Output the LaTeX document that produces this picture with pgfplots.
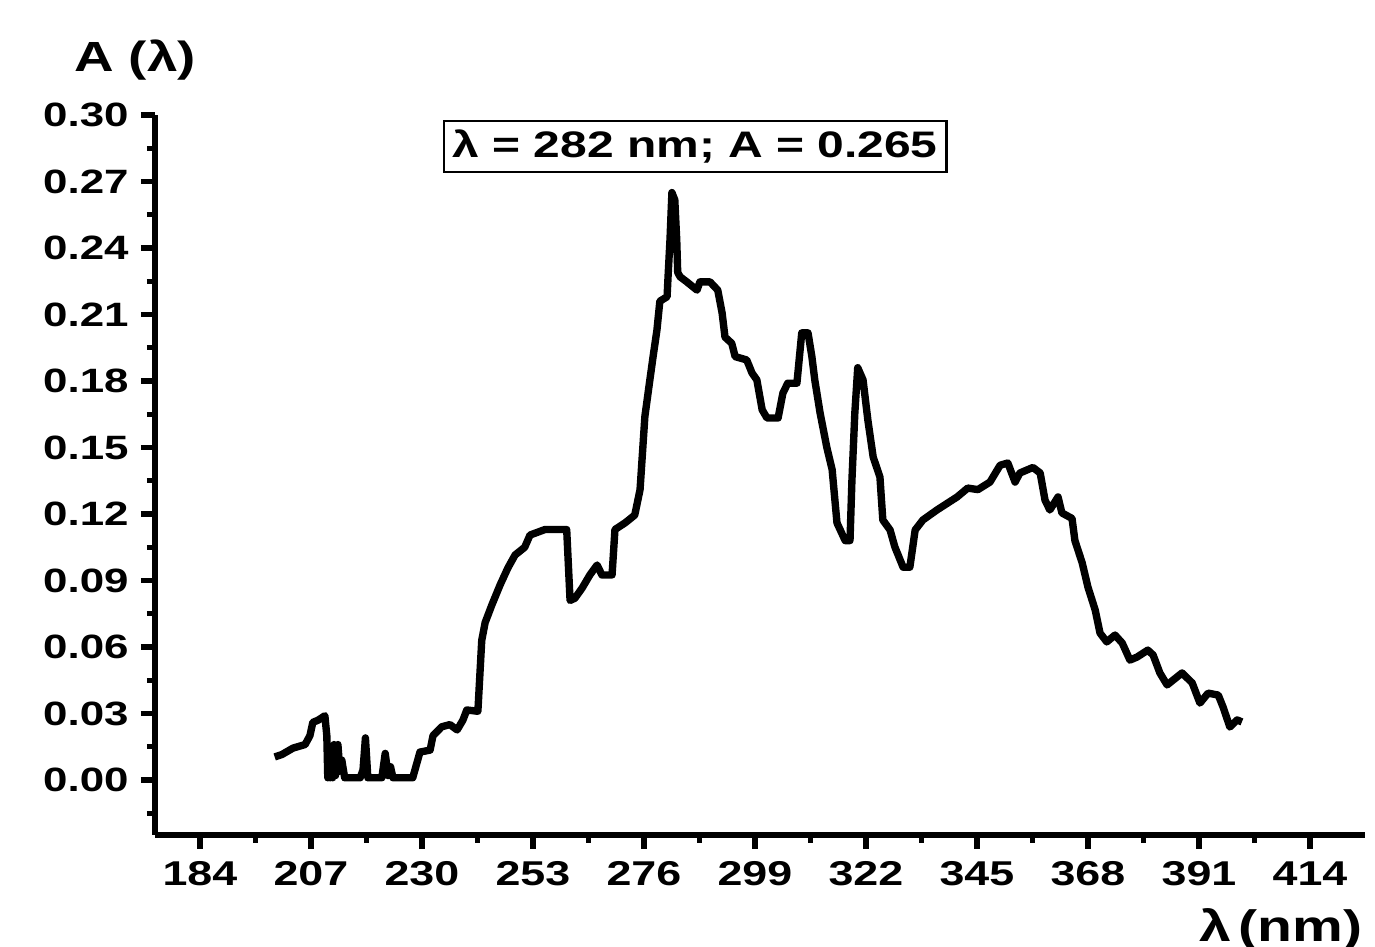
\documentclass[border=0pt]{standalone}
\usepackage{fontspec}
\setmainfont{Liberation Sans}[FakeStretch=1.3]
\usepackage{pgfplots}
\pgfplotsset{compat=1.18}
\usetikzlibrary{calc}

\pgfplotstableread{
lam A
199.5 0.0104
201.0 0.0115
203.3 0.0144
205.8 0.0160
206.8 0.0200
207.4 0.0260
208.5 0.0270
209.9 0.0290
210.3 0.0200
210.5 0.0010
210.8 0.0150
211.0 0.0010
211.3 0.0130
211.5 0.0010
211.8 0.0160
212.1 0.0020
212.6 0.0160
213.0 0.0040
213.4 0.0090
214.0 0.0010
217.2 0.0010
217.8 0.0045
218.3 0.0190
218.8 0.0010
221.7 0.0010
222.4 0.0120
223.0 0.0020
223.5 0.0060
224.0 0.0010
228.1 0.0010
229.6 0.0126
231.7 0.0135
232.3 0.0200
234.1 0.0240
235.8 0.0250
237.3 0.0226
238.5 0.0270
239.3 0.0316
241.6 0.0310
242.4 0.0630
243.1 0.0710
244.5 0.0790
246.2 0.0880
247.8 0.0956
249.3 0.1015
251.3 0.1050
252.4 0.1105
255.5 0.1130
260.0 0.1130
260.7 0.0810
261.7 0.0820
263.2 0.0866
264.8 0.0925
266.3 0.0970
267.3 0.0925
269.4 0.0925
270.0 0.1130
272.1 0.1160
274.1 0.1195
275.2 0.1310
276.2 0.1640
277.2 0.1800
277.9 0.1910
278.7 0.2030
279.3 0.2160
280.8 0.2180
281.0 0.2270
281.4 0.2436
281.8 0.2650
282.4 0.2617
282.8 0.2436
283.0 0.2290
283.5 0.2270
284.9 0.2247
287.0 0.2210
287.6 0.2247
289.7 0.2247
291.3 0.2210
292.2 0.2107
292.8 0.1998
294.2 0.1970
294.9 0.1910
297.3 0.1895
298.4 0.1836
299.4 0.1805
300.5 0.1670
301.5 0.1633
303.8 0.1633
304.8 0.1746
305.8 0.1790
307.7 0.1790
308.7 0.2017
310.0 0.2017
310.8 0.1910
311.4 0.1805
312.5 0.1656
313.9 0.1500
315.0 0.1400
316.0 0.1160
317.7 0.1080
318.7 0.1080
319.1 0.1353
319.7 0.1656
320.3 0.1860
321.4 0.1805
322.4 0.1624
323.5 0.1457
324.9 0.1367
325.5 0.1173
327.0 0.1128
328.0 0.1051
329.7 0.0960
331.1 0.0960
332.2 0.1128
333.8 0.1173
336.7 0.1218
340.9 0.1277
343.1 0.1317
345.2 0.1310
347.7 0.1344
349.8 0.1420
351.4 0.1430
352.9 0.1344
353.9 0.1385
356.6 0.1410
358.1 0.1385
359.1 0.1263
360.1 0.1218
361.8 0.1277
362.6 0.1205
364.7 0.1180
365.3 0.1080
366.8 0.0980
368.0 0.0870
369.5 0.0767
370.5 0.0663
371.9 0.0623
373.6 0.0654
375.1 0.0618
376.7 0.0541
378.2 0.0555
380.4 0.0586
381.5 0.0564
382.9 0.0483
384.4 0.0429
387.5 0.0483
389.6 0.0438
391.2 0.0347
392.9 0.0392
395.0 0.0383
396.0 0.0329
397.4 0.0239
398.9 0.0271
399.9 0.0262
}\spectrum

\begin{document}
\begin{tikzpicture}
\begin{axis}[
	name=ax,
	scale only axis,
	width=12.10cm,
	height=7.20cm,
	xmin=174.7, xmax=425.4,
	ymin=-0.0248, ymax=0.30,
	axis x line=bottom,
	axis y line=left,
	axis line style={-, line width=1.5pt},
	tick align=outside,
	major tick length=0.14cm,
	minor tick length=0.08cm,
	tick style={black, line width=1.5pt},
	xtick={184,207,...,414},
	minor xtick={195.5,218.5,241.5,264.5,287.5,310.5,333.5,356.5,379.5,402.5},
	ytick={0,0.03,0.06,0.09,0.12,0.15,0.18,0.21,0.24,0.27,0.30},
	minor ytick={-0.015,0.015,0.045,0.075,0.105,0.135,0.165,0.195,0.225,0.255,0.285},
	/pgf/number format/assume math mode=true,
	xticklabel style={font=\fontsize{9.8}{11}\selectfont\bfseries},
	yticklabel style={font=\fontsize{9.6}{11}\selectfont\bfseries,
		/pgf/number format/fixed,
		/pgf/number format/fixed zerofill,
		/pgf/number format/precision=2},
	clip=false]

	% absorbance spectrum
	\addplot[black, line width=2.1pt, line join=round] table[x=lam, y=A]{\spectrum};

	% peak annotation
	\node[draw, line width=0.6pt, inner sep=2.5pt, font=\fontsize{10.5}{12}\selectfont\bfseries]
		at (axis cs:286.6,0.2856) {λ = 282 nm; A = 0.265};
\end{axis}

\node[font=\fontsize{12}{14}\selectfont\bfseries] at ($(ax.north west)+(-0.2cm,0.55cm)$) {A (λ)};
\node[anchor=east, font=\fontsize{12.5}{14}\selectfont\bfseries] at ($(ax.south east)+(0.10cm,-0.95cm)$) {λ\,(nm)};

\pgfresetboundingbox
\path[use as bounding box] ($(ax.south west)+(-1.55cm,-1.12cm)$) rectangle ($(ax.north east)+(0.10cm,1.15cm)$);
\end{tikzpicture}
\end{document}
